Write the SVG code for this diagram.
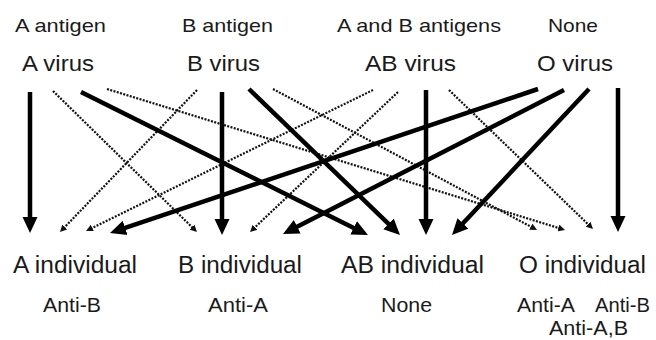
<svg xmlns="http://www.w3.org/2000/svg" width="656" height="340" viewBox="0 0 656 340">
  <style>
    .lbl { font-family: "Liberation Sans", Arial, Helvetica, sans-serif; fill: #1a1a1a; }
    .ant { font-size: 19px; }
    .vir { font-size: 22.5px; }
    .ind { font-size: 23px; }
    .ab  { font-size: 20px; }
    .solid { stroke: #000; stroke-width: 4.5; fill: none; marker-end: url(#bigHead); }
    .dot { stroke: #111; stroke-width: 2.2; stroke-dasharray: 2 1.4; fill: none; marker-end: url(#smallHead); }
  </style>
  <defs>
    <marker id="bigHead" markerUnits="userSpaceOnUse" viewBox="0 0 16 16" markerWidth="16" markerHeight="16" refX="4" refY="8" orient="auto">
      <path d="M0,0.5 L16,8 L0,15.5 Z" fill="#000"/>
    </marker>
    <marker id="smallHead" markerUnits="userSpaceOnUse" viewBox="0 0 7 7" markerWidth="7" markerHeight="7" refX="2" refY="3.5" orient="auto">
      <path d="M0,0 L7,3.5 L0,7 Z" fill="#111"/>
    </marker>
  </defs>
  <rect width="656" height="340" fill="#fff"/>

  <g id="A-virus">
    <text class="lbl ant" x="15" y="32" textLength="91" lengthAdjust="spacingAndGlyphs">A antigen</text>
    <text class="lbl vir" x="22" y="71" textLength="72" lengthAdjust="spacingAndGlyphs">A virus</text>
  </g>
  <g id="B-virus">
    <text class="lbl ant" x="182" y="32" textLength="91" lengthAdjust="spacingAndGlyphs">B antigen</text>
    <text class="lbl vir" x="187" y="71" textLength="73" lengthAdjust="spacingAndGlyphs">B virus</text>
  </g>
  <g id="AB-virus">
    <text class="lbl ant" x="337" y="32" textLength="164" lengthAdjust="spacingAndGlyphs">A and B antigens</text>
    <text class="lbl vir" x="365" y="71" textLength="91" lengthAdjust="spacingAndGlyphs">AB virus</text>
  </g>
  <g id="O-virus">
    <text class="lbl ant" x="548" y="32" textLength="50" lengthAdjust="spacingAndGlyphs">None</text>
    <text class="lbl vir" x="537" y="71" textLength="76" lengthAdjust="spacingAndGlyphs">O virus</text>
  </g>

  <g id="A-individual">
    <text class="lbl ind" x="13" y="273" textLength="124" lengthAdjust="spacingAndGlyphs">A individual</text>
    <text class="lbl ab" x="43" y="312" textLength="58" lengthAdjust="spacingAndGlyphs">Anti-B</text>
  </g>
  <g id="B-individual">
    <text class="lbl ind" x="178" y="273" textLength="124" lengthAdjust="spacingAndGlyphs">B individual</text>
    <text class="lbl ab" x="208" y="312" textLength="60" lengthAdjust="spacingAndGlyphs">Anti-A</text>
  </g>
  <g id="AB-individual">
    <text class="lbl ind" x="341" y="273" textLength="143" lengthAdjust="spacingAndGlyphs">AB individual</text>
    <text class="lbl ab" x="381" y="312" textLength="51" lengthAdjust="spacingAndGlyphs">None</text>
  </g>
  <g id="O-individual">
    <text class="lbl ind" x="519" y="273" textLength="127" lengthAdjust="spacingAndGlyphs">O individual</text>
    <text class="lbl ab" x="517" y="312" textLength="58" lengthAdjust="spacingAndGlyphs">Anti-A</text>
    <text class="lbl ab" x="595" y="312" textLength="55" lengthAdjust="spacingAndGlyphs">Anti-B</text>
    <text class="lbl ab" x="549" y="335" textLength="79" lengthAdjust="spacingAndGlyphs">Anti-A,B</text>
  </g>

  <g id="connectors">
    <line class="dot" x1="53" y1="91" x2="193.43" y2="228.5"/>
    <line class="dot" x1="107" y1="89" x2="560.22" y2="228.53"/>
    <line class="dot" x1="197" y1="90" x2="63.47" y2="228.4"/>
    <line class="dot" x1="273" y1="89" x2="532.59" y2="227.64"/>
    <line class="dot" x1="373" y1="90" x2="90.49" y2="228.8"/>
    <line class="dot" x1="398" y1="92" x2="253.63" y2="228.56"/>
    <line class="dot" x1="449" y1="90" x2="589.4" y2="225.53"/>
    <line class="solid" x1="30" y1="92" x2="30" y2="221"/>
    <line class="solid" x1="81" y1="92" x2="357.26" y2="229.65"/>
    <line class="solid" x1="222" y1="92" x2="222" y2="223"/>
    <line class="solid" x1="249" y1="89" x2="391.37" y2="226.66"/>
    <line class="solid" x1="426" y1="90" x2="426" y2="223"/>
    <line class="solid" x1="538" y1="89" x2="121.37" y2="229.17"/>
    <line class="solid" x1="564" y1="90" x2="293.68" y2="228.53"/>
    <line class="solid" x1="589" y1="89" x2="460.21" y2="226.25"/>
    <line class="solid" x1="618" y1="88" x2="618" y2="220"/>
  </g>
</svg>
